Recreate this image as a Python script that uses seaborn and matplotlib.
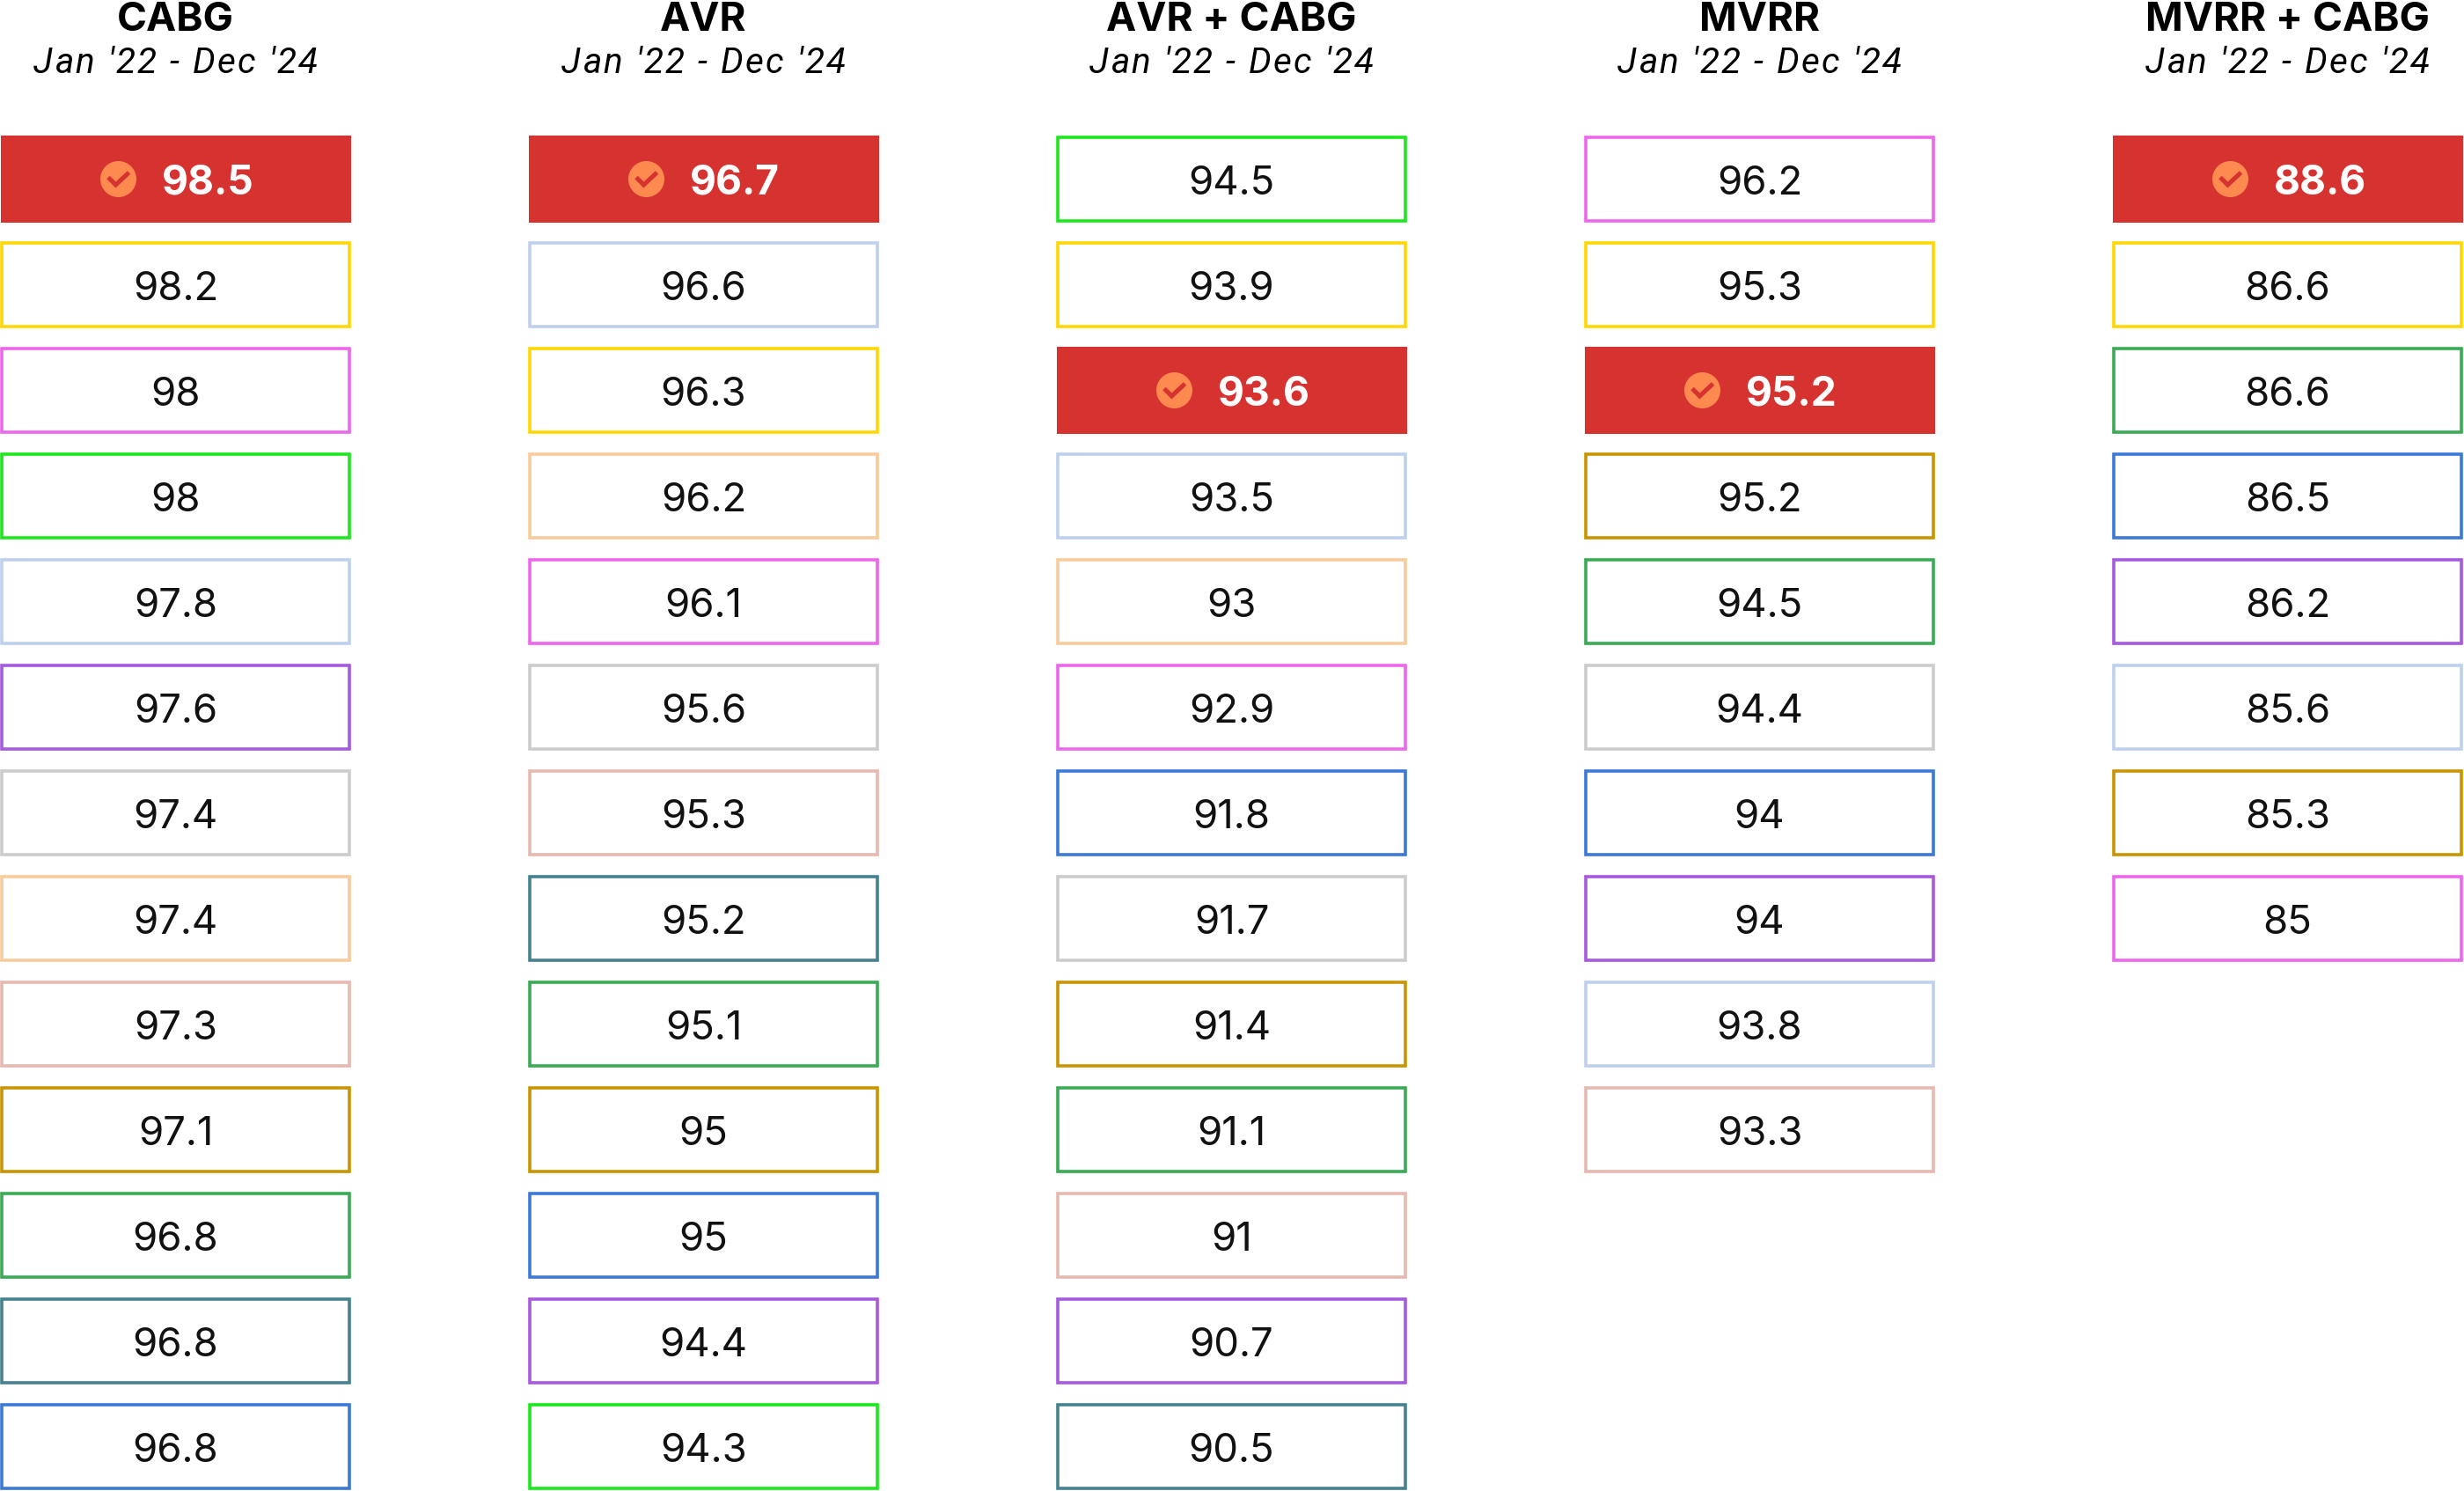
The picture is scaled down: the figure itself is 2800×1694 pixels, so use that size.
import numpy as np
import pandas as pd
import matplotlib
matplotlib.use("Agg")
import matplotlib.pyplot as plt
import seaborn as sns

# ---------------- data ----------------
procedures = ["CABG", "AVR", "AVR + CABG", "MVRR", "MVRR + CABG"]
period_label = "Jan '22 - Dec '24"
highlight_entity = "Ours"

cabg_entities = ["Ours", "A", "B", "C", "D", "E", "F", "G", "H", "I", "J", "K", "L"]
cabg_values = [98.5, 98.2, 98, 98, 97.8, 97.6, 97.4, 97.4, 97.3, 97.1, 96.8, 96.8, 96.8]

avr_entities = ["Ours", "D", "A", "G", "B", "F", "H", "K", "J", "I", "L", "E", "C"]
avr_values = [96.7, 96.6, 96.3, 96.2, 96.1, 95.6, 95.3, 95.2, 95.1, 95, 95, 94.4, 94.3]

avr_cabg_entities = ["C", "A", "Ours", "D", "G", "B", "L", "F", "I", "J", "H", "E", "K"]
avr_cabg_values = [94.5, 93.9, 93.6, 93.5, 93, 92.9, 91.8, 91.7, 91.4, 91.1, 91, 90.7, 90.5]

mvrr_entities = ["B", "A", "Ours", "I", "J", "F", "L", "E", "D", "H"]
mvrr_values = [96.2, 95.3, 95.2, 95.2, 94.5, 94.4, 94, 94, 93.8, 93.3]

mvrr_cabg_entities = ["Ours", "A", "J", "L", "E", "D", "I", "B"]
mvrr_cabg_values = [88.6, 86.6, 86.6, 86.5, 86.2, 85.6, 85.3, 85]

entity_colors = {
    "Ours": "#D63230",
    "A": "#FFD800",
    "B": "#EE66EA",
    "C": "#1CE81C",
    "D": "#BED0EE",
    "E": "#A659DE",
    "F": "#CCCCCC",
    "G": "#F9CB9C",
    "H": "#E6B8AF",
    "I": "#C79500",
    "J": "#3AAA55",
    "K": "#45818E",
    "L": "#3C78D8",
}
icon_color = "#FF8A50"

columns = [
    (cabg_entities, cabg_values),
    (avr_entities, avr_values),
    (avr_cabg_entities, avr_cabg_values),
    (mvrr_entities, mvrr_values),
    (mvrr_cabg_entities, mvrr_cabg_values),
]

rows = []
for ci, (ents, vals) in enumerate(columns):
    for ri, (e, v) in enumerate(zip(ents, vals)):
        rows.append({"procedure": procedures[ci], "col": ci, "rank": ri,
                     "entity": e, "value": v})
df = pd.DataFrame(rows)

def fmt(v):
    return f"{v:g}"

# ---------------- figure ----------------
sns.set_theme(style="white")
plt.rcParams["font.family"] = ["Inter", "DejaVu Sans"]

W, H, DPI = 2800, 1694, 200
fig = plt.figure(figsize=(W / DPI, H / DPI), dpi=DPI)
ax = fig.add_axes([0, 0, 1, 1])
ax.set_axis_off()

col_pitch_px = 600.0
row_pitch_px = 120.0
x0_px = 199.5     # centre of first column
y0_px = 203.5     # centre of first row
xmin = -x0_px / col_pitch_px
ax.set_xlim(xmin, xmin + W / col_pitch_px)
ymin = -y0_px / row_pitch_px
ax.set_ylim(ymin + H / row_pitch_px, ymin)

lw_px = 3.6
lw_pt = lw_px * 72 / DPI
box_w = (398 - lw_px) / col_pitch_px
box_h = (99 - lw_px) / row_pitch_px

normal = df[df["entity"] != highlight_entity]
high = df[df["entity"] == highlight_entity]

# outlined boxes
ax.bar(normal["col"], box_h, bottom=normal["rank"] - box_h / 2, width=box_w,
       facecolor="white",
       edgecolor=[entity_colors[e] for e in normal["entity"]],
       linewidth=lw_pt, zorder=2)
# highlighted boxes
ax.bar(high["col"], box_h + lw_px / row_pitch_px,
       bottom=high["rank"] - (box_h + lw_px / row_pitch_px) / 2,
       width=box_w + lw_px / col_pitch_px,
       facecolor=entity_colors[highlight_entity], edgecolor="none",
       linewidth=0, zorder=2)

# values
for _, r in normal.iterrows():
    ax.text(r["col"], r["rank"] + 0.045, fmt(r["value"]), ha="center", va="center",
            fontsize=16.4, color="#111111", zorder=4)

icon_dx = -65 / col_pitch_px
text_dx = -16 / col_pitch_px
icon_df = high.assign(ix=high["col"] + icon_dx)
diam_pt = 41 * 72 / DPI
sns.scatterplot(data=icon_df, x="ix", y="rank", s=diam_pt ** 2, color=icon_color,
                edgecolor="none", linewidth=0, ax=ax, zorder=4, legend=False)
ax.set_xlabel("")
ax.set_ylabel("")
ax.set_axis_off()

check_px = np.array([[-11.5, -2.0], [-3.0, 6.5], [12.0, -7.5]])
for _, r in high.iterrows():
    cx = r["col"] + icon_dx + check_px[:, 0] / col_pitch_px
    cy = r["rank"] + check_px[:, 1] / row_pitch_px
    ax.plot(cx, cy, color=entity_colors[highlight_entity], lw=5 * 72 / DPI,
            solid_capstyle="butt", solid_joinstyle="miter", zorder=5)
    ax.text(r["col"] + text_dx, r["rank"] + 0.045, fmt(r["value"]), ha="left",
            va="center", fontsize=16.6, fontweight="bold", color="white", zorder=5)

# headers
title_y = (35 - y0_px) / row_pitch_px
sub_y = (83 - y0_px) / row_pitch_px
renderer = fig.canvas.get_renderer()
sub_kw = dict(fontsize=14.6, fontstyle="italic", color="black",
              family=["Roboto", "DejaVu Sans"])

def width_px(s):
    t = ax.text(0, 0, s, **sub_kw)
    w = t.get_window_extent(renderer).width
    t.remove()
    return w

bar_w = width_px("|")
prefix_pos = [0.0] + [width_px(period_label[:i] + "|") - bar_w
                      for i in range(1, len(period_label))]
natural_w = width_px(period_label)
target_w = 323.0
track = (target_w - natural_w) / (len(period_label) - 1)

for ci, name in enumerate(procedures):
    ax.text(ci, title_y, name, ha="center", va="baseline", fontsize=16.5,
            fontweight="bold", color="black")
    start = ci - target_w / 2 / col_pitch_px
    for i, ch in enumerate(period_label):
        if ch == " ":
            continue
        xx = start + (prefix_pos[i] + i * track) / col_pitch_px
        ax.text(xx, sub_y, ch, ha="left", va="baseline", **sub_kw)

fig.savefig("out.png", dpi=DPI, facecolor="white")
